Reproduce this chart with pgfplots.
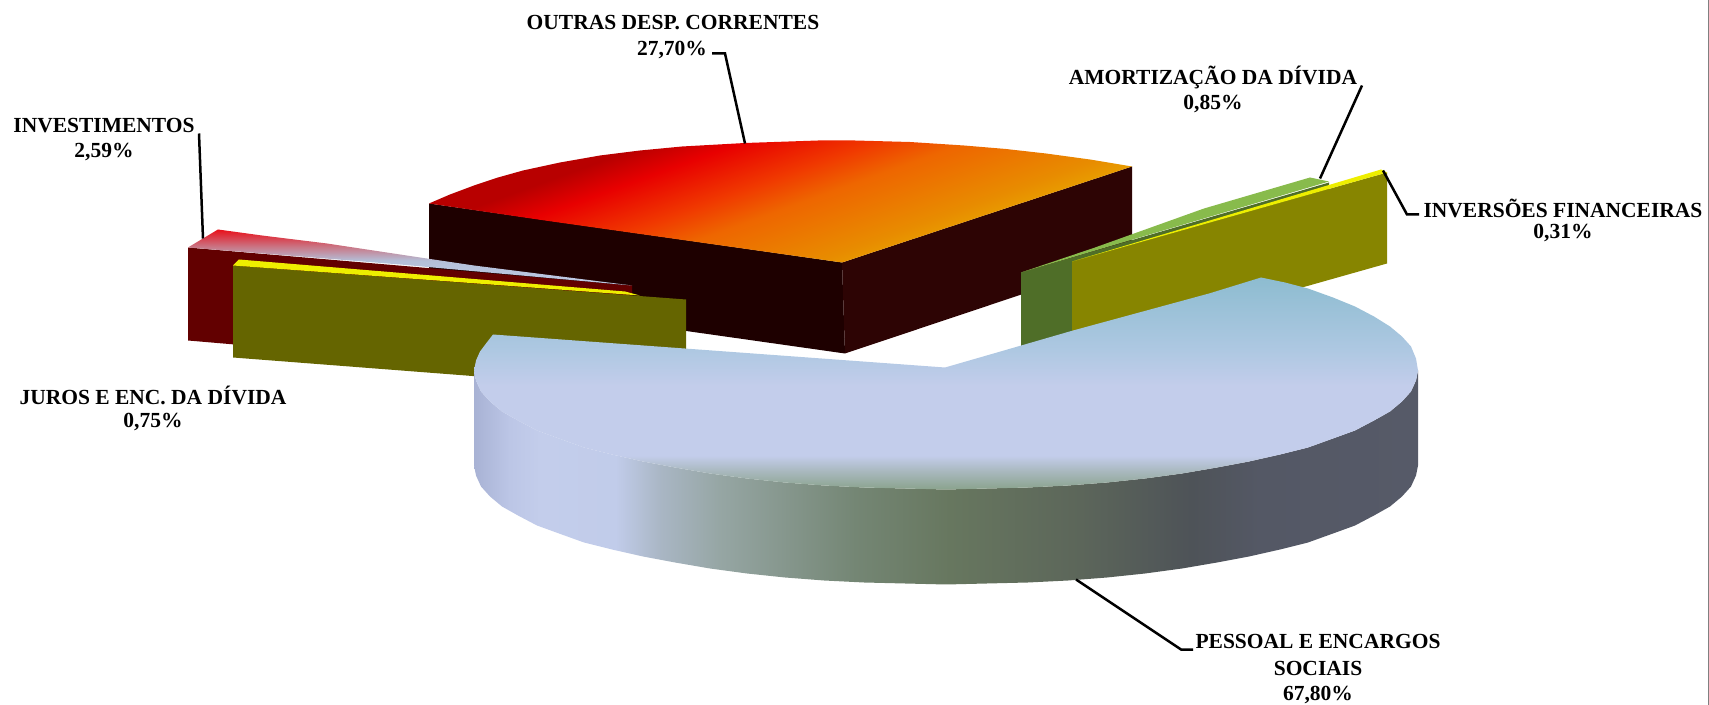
\documentclass[border=0pt]{standalone}
\usepackage{fontspec}
\setmainfont{Liberation Serif}
\usepackage{pgfplots}
\pgfplotsset{compat=1.18}
\definecolor{bt0}{HTML}{8AA38D}\definecolor{bt1}{HTML}{AAB9C0}\definecolor{bt2}{HTML}{C3CDEB}
\definecolor{bt3}{HTML}{AEC8E2}\definecolor{bt4}{HTML}{8DBCD0}
\pgfdeclareverticalshading{bluetop}{100bp}{color(0bp)=(bt0);color(25bp)=(bt0);color(29.5bp)=(bt1);color(33bp)=(bt2);color(49.5bp)=(bt2);color(57.8bp)=(bt3);color(75bp)=(bt4);color(100bp)=(bt4)}
\definecolor{s0}{HTML}{A8B2D4}\definecolor{s1}{HTML}{BCC6E6}\definecolor{s2}{HTML}{C3CDEB}\definecolor{s3}{HTML}{C1CCEA}
\definecolor{s4}{HTML}{A9B6C4}\definecolor{s5}{HTML}{96A6A4}\definecolor{s6}{HTML}{748674}\definecolor{s7}{HTML}{67775F}
\definecolor{s8}{HTML}{5C665A}\definecolor{s9}{HTML}{4E5358}\definecolor{s10}{HTML}{545865}\definecolor{s11}{HTML}{565A68}
\pgfdeclarehorizontalshading{blueside}{100bp}{color(0bp)=(s0);color(25bp)=(s0);color(26.9bp)=(s1);color(28.5bp)=(s2);color(32.5bp)=(s3);color(34.9bp)=(s4);color(38bp)=(s5);color(45.2bp)=(s6);color(50.2bp)=(s7);color(57.1bp)=(s8);color(63bp)=(s9);color(66.6bp)=(s10);color(75bp)=(s11);color(100bp)=(s11)}
\definecolor{r0}{HTML}{B80000}\definecolor{r1}{HTML}{E80000}\definecolor{r2}{HTML}{F03800}\definecolor{r3}{HTML}{EE6600}\definecolor{r4}{HTML}{E88C00}\definecolor{r5}{HTML}{E89C00}
\pgfdeclarehorizontalshading{redtop}{100bp}{color(0bp)=(r0);color(32bp)=(r0);color(37.5bp)=(r1);color(45.6bp)=(r2);color(51.4bp)=(r3);color(62.5bp)=(r4);color(65.7bp)=(r5);color(100bp)=(r5)}
\definecolor{i0}{HTML}{E8101A}\definecolor{i1}{HTML}{C87A8A}\definecolor{i2}{HTML}{B4BFD8}\definecolor{i3}{HTML}{BFCBE6}
\pgfdeclareverticalshading{invtop}{100bp}{color(0bp)=(i3);color(25bp)=(i3);color(47.3bp)=(i2);color(59bp)=(i1);color(75bp)=(i0);color(100bp)=(i0)}
\definecolor{wallL}{HTML}{1E0000}\definecolor{wallR}{HTML}{2D0404}\definecolor{invS}{HTML}{620000}
\definecolor{jur}{HTML}{656500}\definecolor{yel}{HTML}{EEEE00}\definecolor{inv}{HTML}{878500}
\definecolor{grT}{HTML}{88BB4C}\definecolor{grS}{HTML}{4F6E28}
\newcommand{\lab}[3]{\node[font=\fontsize{10.75}{13}\selectfont\bfseries,anchor=center,inner sep=0pt] at (axis cs:#1,#2) {#3};}
\begin{document}
\begin{tikzpicture}
\begin{axis}[scale only axis,width=854.5pt,height=352pt,xmin=0,xmax=1709,ymin=0,ymax=704,y dir=reverse,hide axis,clip=false]
\addplot[draw=none] coordinates {(0,0)(1709,704)};
% OUTRAS DESP. CORRENTES
\addplot[draw=none,fill=wallL] coordinates {(429,203)(842,262)(845,353)(429,294)(429,203)};
\addplot[draw=none,fill=wallR] coordinates {(842,262)(1132,166)(1132,257)(845,353)(842,262)};
\addplot[draw=none,shading=redtop,shading angle=-70] coordinates {(429,203)(450,194)(474,185)(498,177)(523,170)(560,162)(600,155)(640,150)(682,146)(745,142.5)(818,140)(855,140)(910,141.5)(964,145)(1006,148.5)(1046,153)(1090,159)(1132,166)(842,262)(736,247)(545,220)(429,203)};
% INVESTIMENTOS
\addplot[draw=none,fill=invS] coordinates {(188,247)(632,285)(632,378)(188,340)(188,247)};
\addplot[draw=none,shading=invtop] coordinates {(188,247)(218,229)(262,235)(327,243)(420,257)(474,265)(632,285)(400,264)(188,247)};
% JUROS
\addplot[draw=none,fill=jur] coordinates {(233,265)(686,299)(686,392)(233,357)(233,265)};
\addplot[draw=none,fill=yel] coordinates {(239,259)(233,265)(640,295)(625,291)(239,259)};
% AMORTIZACAO
\addplot[draw=none,fill=grS] coordinates {(1021,272)(1329,182)(1329,274)(1021,363)(1021,272)};
\addplot[draw=none,fill=grT] coordinates {(1021,272)(1095,247)(1204,208)(1310,177)(1329,181)(1021,272)};
% INVERSOES
\addplot[draw=none,fill=inv] coordinates {(1072,261)(1387,172)(1387,263)(1072,352)(1072,261)};
\addplot[draw=none,fill=yel] coordinates {(1072,261)(1381,169)(1387,172)(1072,261)};
% PESSOAL
\addplot[draw=none,shading=blueside] coordinates {(1418,370)(1416,380)(1411,391)(1402,401)(1390,411)(1374,420)(1355,430)(1333,438)(1308,447)(1280,454)(1249,461)(1217,467)(1182,473)(1145,478)(1107,482)(1068,485)(1028,487)(987,488)(946,489)(905,488)(864,487)(824,485)(785,482)(747,478)(710,473)(675,467)(643,461)(612,454)(584,447)(559,438)(537,430)(518,420)(502,411)(490,401)(481,391)(476,380)(474,370)
(474,465)(476,475)(481,486)(490,496)(502,506)(518,515)(537,525)(559,533)(584,542)(612,549)(643,556)(675,562)(710,568)(747,573)(785,577)(824,580)(864,582)(905,583)(946,584)(987,583)(1028,582)(1068,580)(1107,577)(1145,573)(1182,568)(1217,562)(1249,556)(1280,549)(1308,542)(1333,533)(1355,525)(1374,515)(1390,506)(1402,496)(1411,486)(1416,475)(1418,465)(1418,370)};
\addplot[draw=none,shading=bluetop] coordinates {(493,334)(945,367)(997,352)(1073,330)(1209,293)(1261,277)(1285,282)(1308,288)(1333,297)(1355,306)(1374,316)(1390,326)(1402,336)(1411,346)(1416,358)(1418,370)(1416,380)(1411,391)(1402,401)(1390,411)(1374,420)(1355,430)(1333,438)(1308,447)(1280,454)(1249,461)(1217,467)(1182,473)(1145,478)(1107,482)(1068,485)(1028,487)(987,488)(946,489)(905,488)(864,487)(824,485)(785,482)(747,478)(710,473)(675,467)(643,461)(612,454)(584,447)(559,438)(537,430)(518,420)(502,411)(490,401)(481,391)(476,380)(474,370)(476,360)(480,351)(486,343)(493,334)};
% leaders
\addplot[black,line width=1.25pt] coordinates {(712,53)(725,53)(745,143)};
\addplot[black,line width=1.25pt] coordinates {(199,133)(203,238)};
\addplot[black,line width=1.25pt] coordinates {(1362,85)(1320,178)};
\addplot[black,line width=1.25pt] coordinates {(1383,170)(1407,214)(1419,214)};
\addplot[black,line width=1.25pt] coordinates {(1076,579)(1181,649)(1193,649)};
\addplot[gray,line width=0.5pt] coordinates {(1708.5,0)(1708.5,704)};
\lab{673}{22}{OUTRAS DESP. CORRENTES}
\lab{672}{50}{27,70\%}
\lab{104}{125}{INVESTIMENTOS}
\lab{104}{152}{2,59\%}
\lab{1213}{77}{AMORTIZAÇÃO DA DÍVIDA}
\lab{1213}{104}{0,85\%}
\lab{1563}{208}{INVERSÕES FINANCEIRAS}
\lab{1563}{233}{0,31\%}
\lab{153}{395}{JUROS E ENC. DA DÍVIDA}
\lab{153}{422}{0,75\%}
\lab{1318}{641}{PESSOAL E ENCARGOS}
\lab{1318}{668}{SOCIAIS}
\lab{1318}{695}{67,80\%}
\end{axis}
\end{tikzpicture}
\end{document}
